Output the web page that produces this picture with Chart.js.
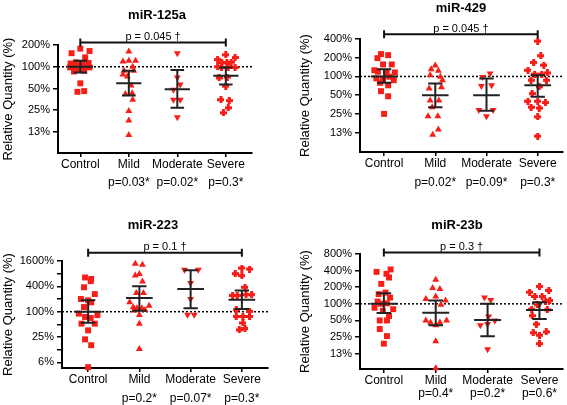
<!DOCTYPE html>
<html>
<head>
<meta charset="utf-8">
<script src="https://cdn.jsdelivr.net/npm/chart.js@4.4.0/dist/chart.umd.min.js"></script>
<style>
body { margin: 0; background: #fff; }
.wrap { position: relative; width: 567px; height: 405px; overflow: hidden; }
canvas { position: absolute; }
</style>
</head>
<body>
<div class="wrap">
  <canvas id="c1" width="283" height="200" style="left:0;top:0"></canvas>
  <canvas id="c2" width="284" height="200" style="left:283px;top:0"></canvas>
  <canvas id="c3" width="283" height="205" style="left:0;top:200px"></canvas>
  <canvas id="c4" width="284" height="205" style="left:283px;top:200px"></canvas>
</div>
<script>
const groups = ['Control', 'Mild', 'Moderate', 'Severe'];

// each point: [horizontal jitter in category units, relative quantity %]

// miR-125a
const a125Control = [[0,178],[0.19,165],[-0.18,154],[0.1,135],[-0.2,111],[-0.09,115],[0.05,113],[0.17,113],[-0.21,98],[-0.1,100],[0.14,100],[0.02,104],[0.19,98],[-0.04,90],[0.08,88],[-0.13,86],[0,59],[-0.06,45],[0.08,46]];
const a125Mild = [[0,162],[-0.12,118],[0,121],[0.14,121],[0.08,100],[-0.12,78],[0.1,88],[-0.03,73],[0.05,55],[-0.07,42],[0.07,43],[0.08,35],[0,24.5],[0,18],[0,11.4],[-0.1,88]];
const a125Moderate = [[0,154],[0,71],[0.06,57],[-0.08,48],[-0.08,35],[0.06,35],[0,20]];
const a125Severe = [[0,146],[0.19,134],[-0.17,126],[-0.08,114],[0.02,114],[0.11,116],[-0.17,100],[-0.09,98],[0.05,98],[0.19,98],[-0.14,70],[0.03,72],[0,54],[-0.1,35],[0.07,34],[0.05,27],[-0.05,23]];
const a125Mean = [100, 59, 49, 75];
const a125Hi = [121, 88, 90, 98];
const a125Lo = [83, 40, 27, 57];
const a125P = ['', 'p=0.03*', 'p=0.02*', 'p=0.3*'];
const a125Ticks = [12.5, 25, 50, 100, 200];
const a125Labels = ['13%', '25%', '50%', '100%', '200%'];

// miR-429
const a429Control = [[-0.06,229],[0.08,220],[-0.13,197],[0.15,156],[-0.02,156],[-0.19,126],[-0.12,119],[0.21,116],[0.05,114],[-0.15,93],[0.19,87],[-0.02,89],[0.1,99],[-0.08,79],[0.08,72],[-0.06,58],[0.08,48],[0,25]];
const a429Mild = [[0,150],[-0.08,130],[0.06,123],[-0.1,105],[0.14,87],[0.1,99],[-0.12,64],[0.12,67],[-0.1,41],[0.07,41],[-0.06,32],[-0.14,23],[0.05,23],[0.06,14],[-0.05,11.5]];
const a429Moderate = [[0.07,112],[-0.08,98],[0.1,72],[-0.1,70],[-0.15,29],[0.13,29],[0,23]];
const a429Severe = [[0,370],[0.06,215],[-0.08,168],[0.12,152],[-0.19,126],[-0.06,109],[0.08,109],[0.19,114],[-0.13,87],[0.17,87],[0.03,68],[-0.11,53],[-0.19,40],[0,40],[0.15,38],[-0.13,32],[0.03,31],[0,22.4],[0,11]];
const a429Mean = [100, 50, 50, 72];
const a429Hi = [130, 77, 93, 105];
const a429Lo = [79, 32, 28, 47];
const a429P = ['', 'p=0.02*', 'p=0.09*', 'p=0.3*'];
const a429Ticks = [12.5, 25, 50, 100, 200, 400];
const a429Labels = ['13%', '25%', '50%', '100%', '200%', '400%'];

// miR-223
const a223Control = [[-0.06,650],[0.06,600],[0.05,530],[-0.08,380],[0.13,262],[-0.14,200],[0,186],[0.06,167],[-0.08,129],[-0.18,90],[0.18,83],[-0.06,75],[0.05,71],[-0.13,52],[0.13,52],[0,36],[-0.06,22],[0.06,16],[0,4.8]];
const a223Mild = [[-0.08,1380],[0.06,1310],[-0.08,720],[0,790],[0.06,525],[-0.06,278],[0.08,278],[-0.19,167],[0.19,139],[-0.12,127],[-0.05,121],[0.05,121],[0.11,110],[-0.1,107],[0,83],[0,52],[0,13]];
const a223Moderate = [[-0.12,990],[0.15,990],[0,480],[0,200],[-0.06,85],[0.07,85]];
const a223Severe = [[0,1090],[0.15,1030],[-0.13,800],[0,720],[0.06,380],[-0.18,244],[-0.09,244],[0.08,254],[0.19,254],[-0.11,112],[0.15,102],[-0.11,77],[0.02,77],[0.15,77],[0.02,54],[-0.05,37],[0.06,40]];
const a223Mean = [100, 211, 346, 193];
const a223Hi = [186, 400, 960, 320];
const a223Lo = [55, 106, 120, 116];
const a223P = ['', 'p=0.2*', 'p=0.07*', 'p=0.3*'];
const a223Ticks = [6.25, 12.5, 25, 50, 100, 200, 400, 800, 1600];
const a223Labels = ['6%', '', '25%', '', '100%', '', '400%', '', '1600%'];

// miR-23b
const a23bControl = [[-0.14,380],[0.13,420],[0.05,350],[0.1,300],[-0.05,230],[-0.1,150],[0.03,160],[0.12,130],[-0.18,85],[0.18,80],[-0.06,100],[0.06,102],[-0.02,75],[0.1,60],[-0.08,50],[0.06,50],[-0.08,35],[0.06,26],[0,19],[-0.12,110]];
const a23bMild = [[0,274],[-0.06,193],[0.08,185],[-0.19,122],[0,136],[0.19,115],[0.1,96],[-0.19,50],[0.21,50],[-0.1,46],[0.08,46],[0,41],[0,21],[0,6.8]];
const a23bModerate = [[-0.06,130],[0.06,118],[-0.14,41],[0,43],[0.14,50],[0.02,59],[0,15]];
const a23bSevere = [[0,207],[-0.19,163],[0.18,175],[-0.09,136],[0.05,136],[0.2,115],[0.12,110],[-0.14,61],[-0.04,96],[0.15,78],[-0.15,80],[-0.06,43],[-0.12,30],[0.13,31],[0,27],[0,19]];
const a23bMean = [100, 69, 51, 77];
const a23bHi = [156, 115, 100, 107];
const a23bLo = [68, 41, 26, 53];
const a23bP = ['', 'p=0.4*', 'p=0.2*', 'p=0.6*'];
const a23bTicks = [12.5, 25, 50, 100, 200, 400, 800];
const a23bLabels = ['13%', '25%', '50%', '100%', '200%', '400%', '800%'];

const RED = '#f81e17';
const NARROW = "'Liberation Sans Narrow', 'Liberation Sans', Arial, sans-serif";
Chart.defaults.font.family = NARROW;
Chart.defaults.color = '#000';

// filled plus-like marker used for the Severe group
function plusMark(size) {
  const c = document.createElement('canvas');
  c.width = c.height = size;
  const g = c.getContext('2d');
  const a = Math.round(size * 0.28);
  g.fillStyle = RED;
  g.fillRect(0, a, size, size - 2 * a);
  g.fillRect(a, 0, size - 2 * a, size);
  return c;
}
const severeMark = plusMark(7);

function decor(p) {
  return {
    id: 'decor',
    beforeDatasetsDraw(chart) {
      const {ctx, chartArea, scales: {y}} = chart;
      const y100 = y.getPixelForValue(100);
      ctx.save();
      ctx.strokeStyle = '#000';
      ctx.lineWidth = 1.5;
      ctx.setLineDash([2, 2]);
      ctx.beginPath();
      ctx.moveTo(chartArea.left, y100);
      ctx.lineTo(chartArea.right, y100);
      ctx.stroke();
      ctx.restore();
    },
    afterDatasetsDraw(chart) {
      const {ctx, scales: {x, y}} = chart;
      ctx.save();
      ctx.strokeStyle = '#222';
      ctx.lineWidth = 2;
      for (let g = 0; g < 4; g++) {
        const cx = x.getPixelForValue(g);
        const mw = x.getPixelForValue(g + 0.26) - cx;
        const cw = x.getPixelForValue(g + 0.14) - cx;
        const ym = y.getPixelForValue(p.mean[g]);
        const yh = y.getPixelForValue(p.hi[g]);
        const yl = y.getPixelForValue(p.lo[g]);
        ctx.beginPath();
        ctx.moveTo(cx - mw, ym); ctx.lineTo(cx + mw, ym);
        ctx.moveTo(cx, yh); ctx.lineTo(cx, yl);
        ctx.moveTo(cx - cw, yh); ctx.lineTo(cx + cw, yh);
        ctx.moveTo(cx - cw, yl); ctx.lineTo(cx + cw, yl);
        ctx.stroke();
      }
      ctx.restore();
    },
    afterDraw(chart) {
      const {ctx, chartArea, scales: {x}} = chart;
      ctx.save();
      ctx.fillStyle = '#000';
      ctx.textAlign = 'center';
      // title
      ctx.font = "bold 13px 'Liberation Sans', Arial, sans-serif";
      ctx.textBaseline = 'middle';
      ctx.fillText(p.title, p.titleX, p.titleY);
      // y axis title
      ctx.save();
      ctx.translate(p.yTitleX, (chartArea.top + chartArea.bottom) / 2);
      ctx.rotate(-Math.PI / 2);
      ctx.font = '13px ' + NARROW;
      ctx.fillText('Relative Quantity (%)', 0, 0);
      ctx.restore();
      // bracket Control - Severe
      const by = chartArea.top - p.bracketGap;
      const x0 = x.getPixelForValue(0), x1 = x.getPixelForValue(3);
      ctx.strokeStyle = '#111';
      ctx.lineWidth = 2;
      ctx.beginPath();
      ctx.moveTo(x0, by); ctx.lineTo(x1, by);
      ctx.moveTo(x0, by - 4); ctx.lineTo(x0, by + 4);
      ctx.moveTo(x1, by - 4); ctx.lineTo(x1, by + 4);
      ctx.stroke();
      ctx.font = '11px ' + NARROW;
      ctx.textBaseline = 'alphabetic';
      ctx.fillText(p.bracket, (x0 + x1) / 2, by - 2.5);
      // p-values under the group names
      ctx.font = '12px ' + NARROW;
      ctx.textBaseline = 'middle';
      p.pvals.forEach((t, i) => {
        if (t) ctx.fillText(t, x.getPixelForValue(i), chartArea.bottom + p.pGap);
      });
      ctx.restore();
    }
  };
}

function makeChart(id, p) {
  const styles = ['rect', 'triangle', 'triangle', severeMark];
  const sets = p.points.map((pts, g) => ({
    data: pts.map(d => ({x: g + d[0], y: d[1]})),
    pointStyle: styles[g],
    pointRotation: g === 2 ? 180 : 0,
    pointRadius: g === 0 ? 4.2 : 4,
    pointBackgroundColor: RED,
    pointBorderWidth: 0,
    clip: false
  }));
  const b = p.box;
  return new Chart(document.getElementById(id), {
    type: 'scatter',
    data: {datasets: sets},
    options: {
      responsive: false,
      animation: false,
      events: [],
      layout: {padding: {left: 0, top: b.top, right: b.w - b.right, bottom: 0}},
      plugins: {legend: {display: false}, tooltip: {enabled: false}},
      scales: {
        x: {
          type: 'linear',
          min: p.xr[0],
          max: p.xr[1],
          afterBuildTicks: s => { s.ticks = groups.map((g, i) => ({value: i})); },
          afterFit: s => { s.height = b.h - b.bottom; },
          ticks: {callback: v => groups[v], font: {size: 12}, padding: 0, maxRotation: 0, autoSkip: false},
          grid: {drawOnChartArea: false, tickLength: 4, color: '#000', lineWidth: 1.5},
          border: {color: '#000', width: 2}
        },
        y: {
          type: 'logarithmic',
          min: p.yMin,
          max: p.ticks[p.ticks.length - 1],
          afterBuildTicks: s => { s.ticks = p.ticks.map(v => ({value: v})); },
          afterFit: s => { s.width = b.left; },
          ticks: {callback: (v, i) => p.labels[i], font: {size: 11}, padding: 3, autoSkip: false},
          grid: {drawOnChartArea: false, tickLength: 5, color: '#000', lineWidth: 1.5},
          border: {color: '#000', width: 2}
        }
      }
    },
    plugins: [decor(p)]
  });
}

makeChart('c1', {
  title: 'miR-125a', titleX: 157, titleY: 15, yTitleX: 8,
  points: [a125Control, a125Mild, a125Moderate, a125Severe],
  mean: a125Mean, hi: a125Hi, lo: a125Lo, pvals: a125P,
  bracket: 'p = 0.045 †', bracketGap: 2.5,
  ticks: a125Ticks, labels: a125Labels, yMin: 6.4,
  xr: [-0.46, 3.54], pGap: 30,
  box: {w: 283, h: 200, left: 58, right: 252, top: 45, bottom: 153}
});

makeChart('c2', {
  title: 'miR-429', titleX: 178, titleY: 8, yTitleX: 22,
  points: [a429Control, a429Mild, a429Moderate, a429Severe],
  mean: a429Mean, hi: a429Hi, lo: a429Lo, pvals: a429P,
  bracket: 'p = 0.045 †', bracketGap: 4.7,
  ticks: a429Ticks, labels: a429Labels, yMin: 6.1,
  xr: [-0.47, 3.49], pGap: 31,
  box: {w: 284, h: 200, left: 77, right: 280, top: 39, bottom: 152}
});

makeChart('c3', {
  title: 'miR-223', titleX: 153, titleY: 25, yTitleX: 8,
  points: [a223Control, a223Mild, a223Moderate, a223Severe],
  mean: a223Mean, hi: a223Hi, lo: a223Lo, pvals: a223P,
  bracket: 'p = 0.1 †', bracketGap: 8.3,
  ticks: a223Ticks, labels: a223Labels, yMin: 4.6,
  xr: [-0.51, 3.51], pGap: 31,
  box: {w: 283, h: 205, left: 62, right: 268, top: 61, bottom: 168}
});

makeChart('c4', {
  title: 'miR-23b', titleX: 174, titleY: 25, yTitleX: 22,
  points: [a23bControl, a23bMild, a23bModerate, a23bSevere],
  mean: a23bMean, hi: a23bHi, lo: a23bLo, pvals: a23bP,
  bracket: 'p = 0.3 †', bracketGap: 1.6,
  ticks: a23bTicks, labels: a23bLabels, yMin: 6.6,
  xr: [-0.46, 3.45], pGap: 25,
  box: {w: 284, h: 205, left: 77, right: 280, top: 54, bottom: 169}
});
</script>
</body>
</html>
